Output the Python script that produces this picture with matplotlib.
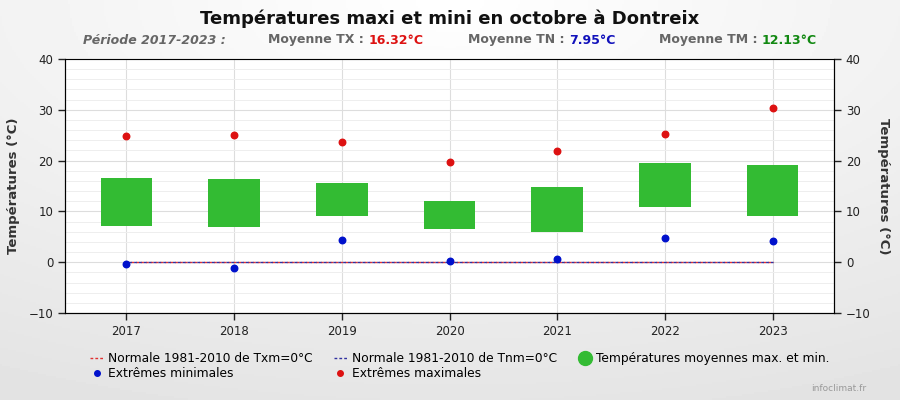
import numpy as np
import matplotlib.pyplot as plt
from matplotlib.lines import Line2D
from matplotlib.ticker import MultipleLocator

annees = ['2017', '2018', '2019', '2020', '2021', '2022', '2023']
tx_moy = [16.5, 16.3, 15.5, 12.1, 14.9, 19.6, 19.2]
tn_moy = [7.2, 7.0, 9.1, 6.6, 6.0, 10.9, 9.1]
extr_max = [24.9, 25.1, 23.7, 19.7, 21.9, 25.3, 30.3]
extr_min = [-0.4, -1.1, 4.4, 0.2, 0.7, 4.8, 4.2]
normale_txm = [0, 0, 0, 0, 0, 0, 0]
normale_tnm = [0, 0, 0, 0, 0, 0, 0]

x = np.arange(len(annees))

fig = plt.figure(figsize=(9, 4), dpi=100)
fig.patch.set_facecolor('#f0f0f0')

# fond en dégradé
bg = fig.add_axes([0, 0, 1, 1], zorder=-10)
yy, xx = np.mgrid[0:1:200j, 0:1:450j]
grad = 1 - 0.9 * np.sqrt(((xx - 0.5) * 0.9) ** 2 + (yy * 0.9) ** 2)
grad = np.clip(grad, 0, 1)
bg.imshow(grad, cmap='gray', vmin=-7.0, vmax=1.0, aspect='auto', extent=[0, 1, 1, 0])
bg.axis('off')

ax = fig.add_axes([0.0722, 0.2175, 0.8545, 0.635])
ax.set_facecolor('white')

ax.bar(x, np.array(tx_moy) - np.array(tn_moy), bottom=tn_moy, width=0.48,
       color='#33bb33', zorder=3)
ax.plot(x, normale_txm, color='#e03030', linestyle=(0, (2, 1.5)), linewidth=1, zorder=4)
ax.plot(x, normale_tnm, color='#3030a0', linestyle=(1.5, (2, 1.5)), linewidth=1, zorder=4)
ax.scatter(x, extr_max, s=22, color='#dd1111', zorder=5)
ax.scatter(x, extr_min, s=22, color='#0011cc', zorder=5)

ax.set_xlim(-0.57, 6.57)
ax.set_ylim(-10, 40)
ax.set_xticks(x)
ax.set_xticklabels(annees, fontsize=8.5)
ax.yaxis.set_major_locator(MultipleLocator(10))
ax.yaxis.set_minor_locator(MultipleLocator(2))
ax.grid(True, which='major', color='#dddddd', linewidth=0.8, zorder=0)
ax.grid(True, which='minor', axis='y', color='#eeeeee', linewidth=0.7, zorder=0)
ax.set_axisbelow(True)
ax.tick_params(axis='y', which='minor', length=0)
ax.tick_params(axis='both', which='major', labelsize=8.5, length=5, width=1, colors='#222222')
for s in ['left', 'right', 'bottom']:
    ax.spines[s].set_color('#111111')
ax.spines['top'].set_color('#dddddd')

ax2 = ax.twinx()
ax2.set_ylim(-10, 40)
ax2.yaxis.set_major_locator(MultipleLocator(10))
ax2.tick_params(axis='y', labelsize=8.5, length=5, width=1, colors='#222222')
ax2.tick_params(axis='y', which='minor', length=0)
ax.set_ylabel('Températures (°C)', fontsize=9.5, fontweight='bold', color='#333333', labelpad=6)
ax2.set_ylabel('Températures (°C)', fontsize=9.5, fontweight='bold', color='#333333',
               rotation=270, labelpad=14)

fig.text(0.5, 0.953, 'Températures maxi et mini en octobre à Dontreix',
         ha='center', va='center', fontsize=13, fontweight='bold', color='#111111')
fig.text(0.092, 0.9, 'Période 2017-2023 :', fontsize=9, fontweight='bold',
         style='italic', color='#666666', va='center')
fig.text(0.298, 0.9, 'Moyenne TX : ', fontsize=9, fontweight='bold', color='#666666', va='center')
fig.text(0.410, 0.9, '16.32°C', fontsize=9, fontweight='bold', color='#dd1111', va='center')
fig.text(0.520, 0.9, 'Moyenne TN : ', fontsize=9, fontweight='bold', color='#666666', va='center')
fig.text(0.632, 0.9, '7.95°C', fontsize=9, fontweight='bold', color='#1111bb', va='center')
fig.text(0.732, 0.9, 'Moyenne TM : ', fontsize=9, fontweight='bold', color='#666666', va='center')
fig.text(0.846, 0.9, '12.13°C', fontsize=9, fontweight='bold', color='#118811', va='center')

handles = [
    Line2D([], [], color='#e03030', linestyle=(0, (2, 1.5)), linewidth=1),
    Line2D([], [], marker='o', color='#0011cc', linestyle='none', markersize=4),
    Line2D([], [], color='#3030a0', linestyle=(0, (2, 1.5)), linewidth=1),
    Line2D([], [], marker='o', color='#dd1111', linestyle='none', markersize=4),
    Line2D([], [], marker='o', color='#33bb33', linestyle='none', markersize=10),
]
labels = ['Normale 1981-2010 de Txm=0°C', 'Extrêmes minimales',
          'Normale 1981-2010 de Tnm=0°C', 'Extrêmes maximales',
          'Températures moyennes max. et min.']
fig.legend(handles, labels, ncol=3, loc='upper left', bbox_to_anchor=(0.093, 0.135),
           frameon=False, fontsize=8.8, handlelength=1.1, handletextpad=0.4,
           columnspacing=1.7, labelspacing=0.15, borderpad=0)

fig.text(0.963, 0.018, 'infoclimat.fr', fontsize=6.5, color='#999999', ha='right', va='bottom')

fig.savefig('out.png', dpi=100)
